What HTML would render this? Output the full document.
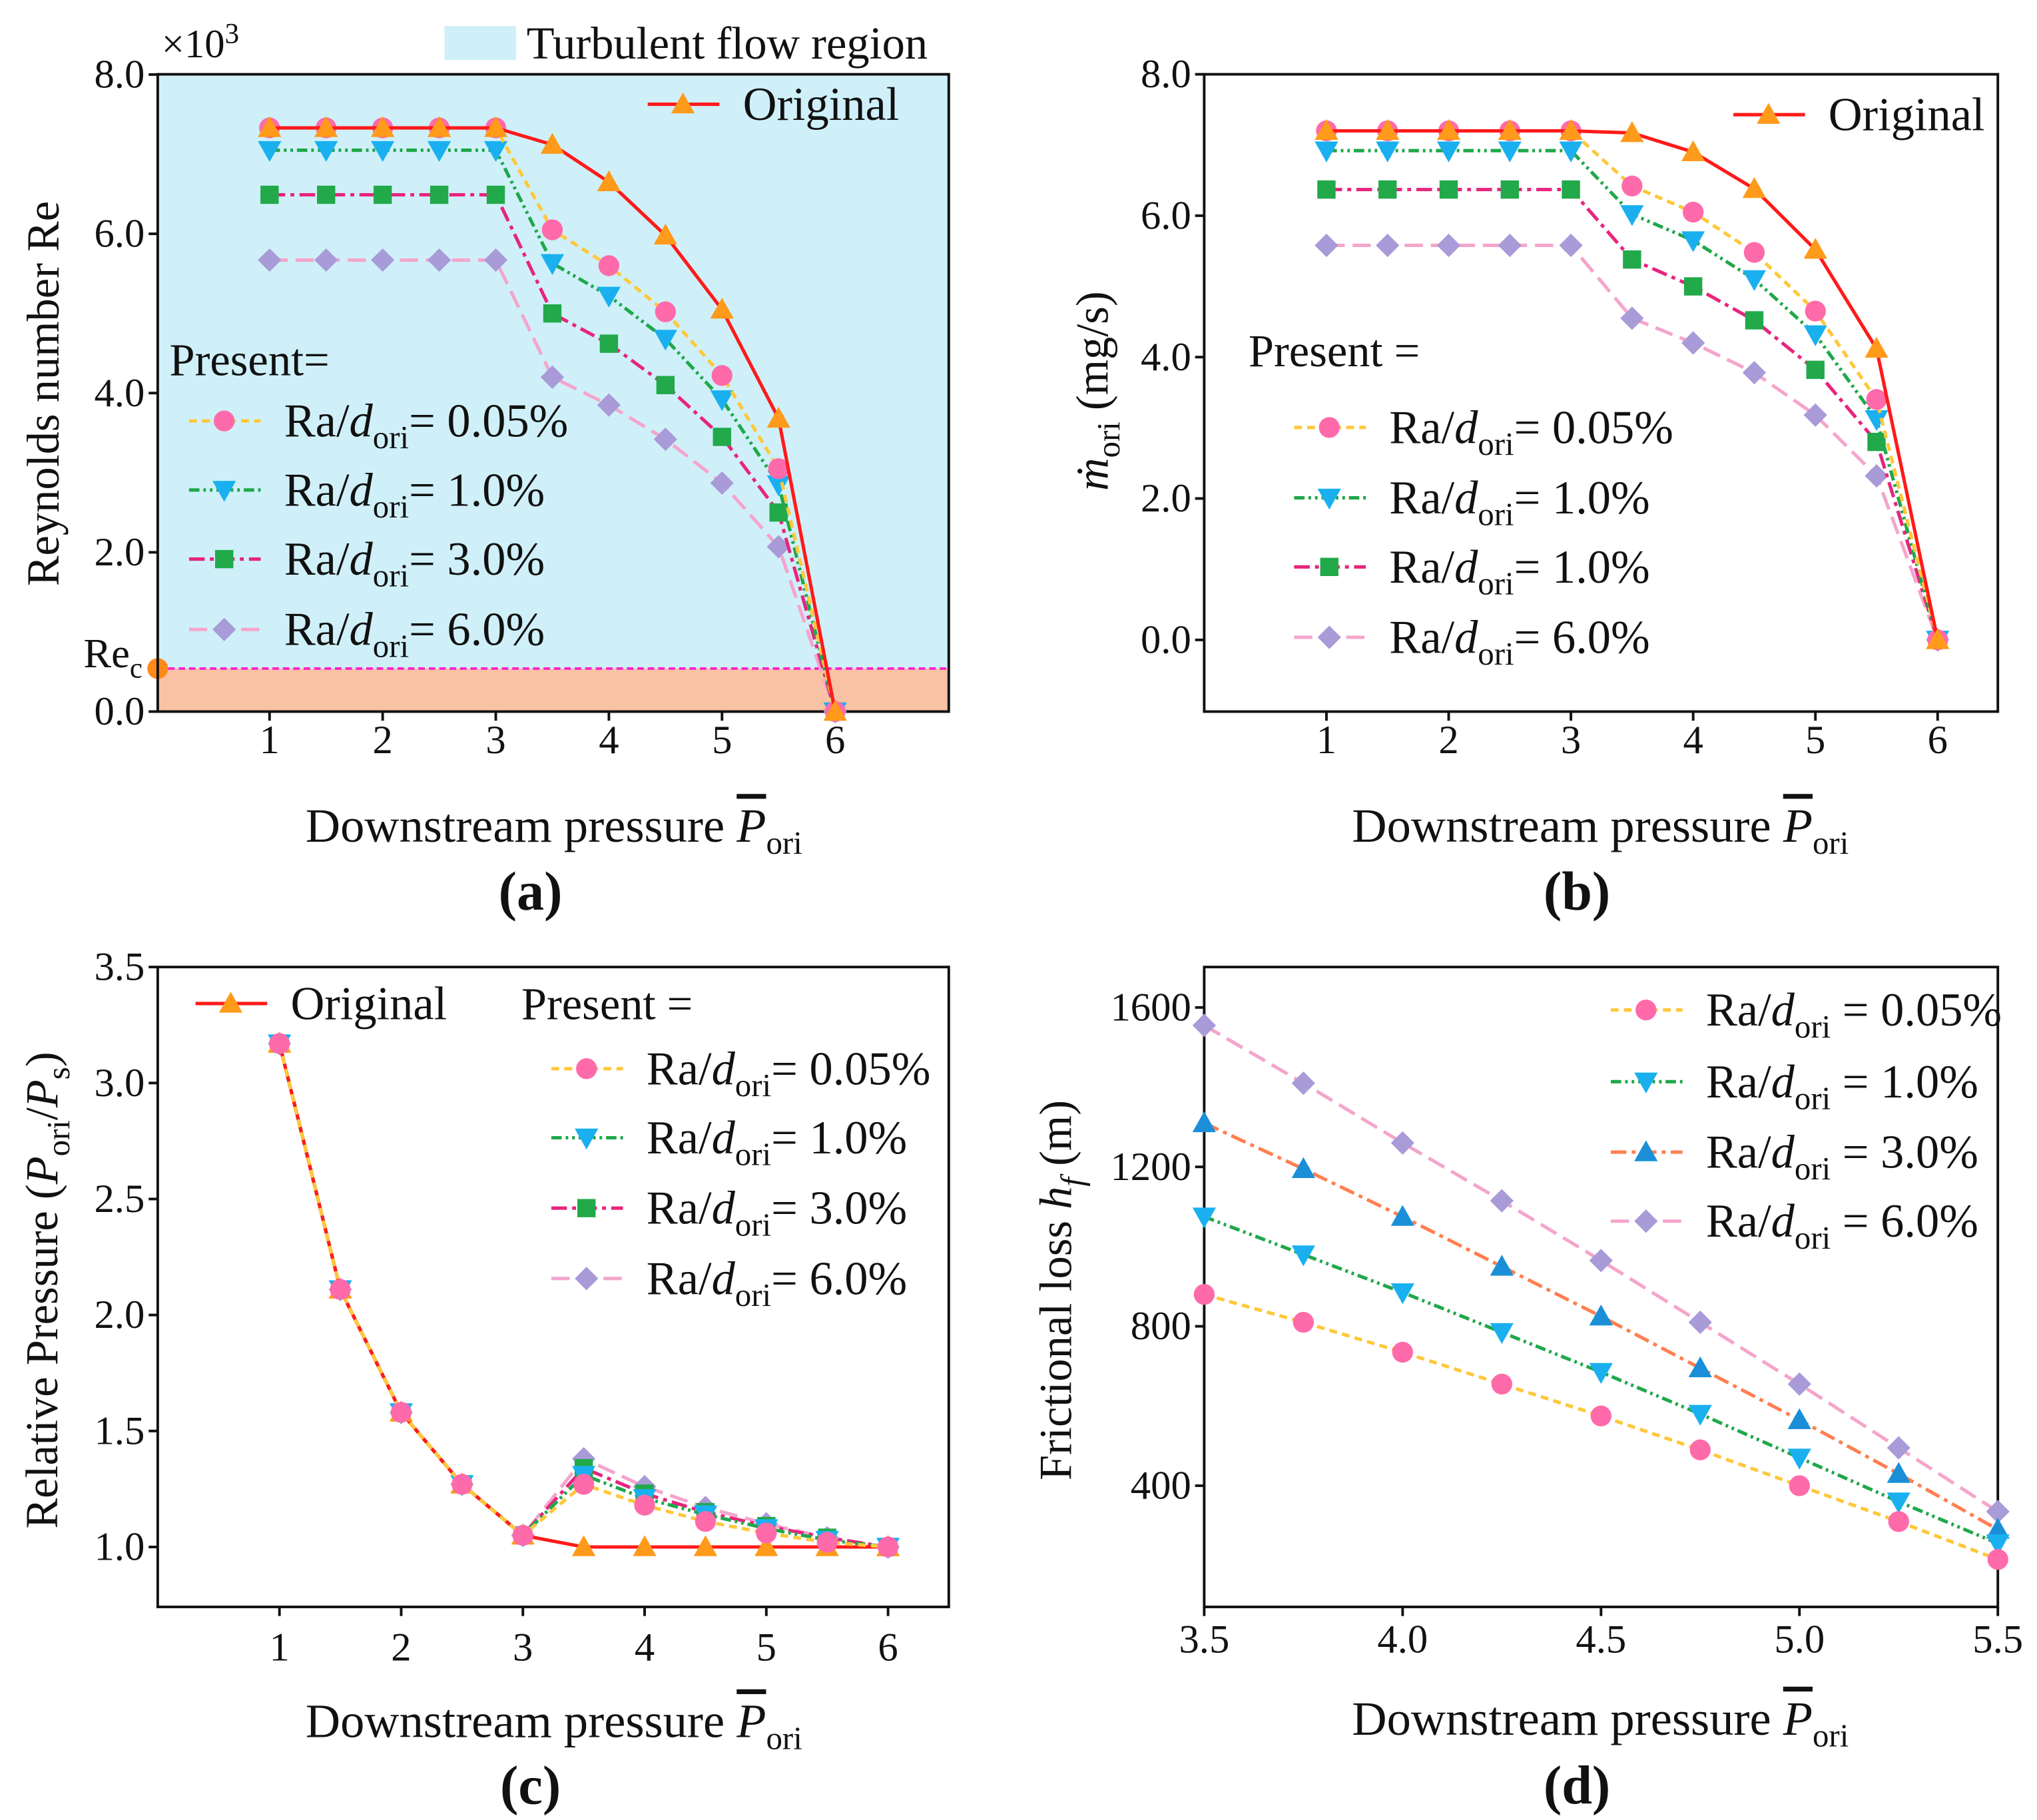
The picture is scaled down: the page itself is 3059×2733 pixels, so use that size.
<!DOCTYPE html>
<html><head><meta charset="utf-8"><style>
html,body{margin:0;padding:0;background:#fff}
svg{display:block}
text{font-family:"Liberation Serif",serif;fill:#111}
</style></head><body>
<svg id="s" xmlns="http://www.w3.org/2000/svg" width="3059" height="2733" viewBox="0 0 1563 1396.5">
<rect x="0" y="0" width="1563" height="1396.5" fill="#fff"/>
</svg>
<script>
const X1=[1,1.5,2,2.5,3,3.5,4,4.5,5,5.5,6];
const aOrig=[7.33,7.33,7.33,7.33,7.33,7.12,6.65,5.98,5.05,3.68,0];
const a005=[7.33,7.33,7.33,7.33,7.33,6.05,5.6,5.02,4.22,3.05,0];
const a10=[7.05,7.05,7.05,7.05,7.05,5.63,5.22,4.68,3.92,2.85,0];
const a30=[6.49,6.49,6.49,6.49,6.49,5.0,4.62,4.1,3.45,2.5,0];
const a60=[5.67,5.67,5.67,5.67,5.67,4.2,3.85,3.42,2.87,2.07,0];
const aRec=0.54;
const bOrig=[7.2,7.2,7.2,7.2,7.2,7.17,6.9,6.38,5.52,4.12,0];
const b005=[7.2,7.2,7.2,7.2,7.2,6.42,6.05,5.48,4.65,3.4,0];
const b10=[6.92,6.92,6.92,6.92,6.92,6.02,5.65,5.1,4.32,3.12,0];
const b30=[6.37,6.37,6.37,6.37,6.37,5.38,5.0,4.52,3.82,2.8,0];
const b60=[5.58,5.58,5.58,5.58,5.58,4.55,4.2,3.78,3.18,2.32,0];
const cOrig=[3.17,2.11,1.58,1.27,1.05,1.0,1.0,1.0,1.0,1.0,1.0];
const c005=[3.17,2.11,1.58,1.27,1.05,1.27,1.18,1.11,1.06,1.02,1.0];
const c10=[3.17,2.11,1.58,1.27,1.05,1.31,1.21,1.14,1.08,1.03,1.0];
const c30=[3.17,2.11,1.58,1.27,1.05,1.34,1.23,1.15,1.09,1.04,1.0];
const c60=[3.17,2.11,1.58,1.27,1.05,1.38,1.26,1.17,1.1,1.04,1.0];
const Xd=[3.5,3.75,4,4.25,4.5,4.75,5,5.25,5.5];
const d005=[880,810,735,655,575,490,400,310,215];
const d10=[1075,980,885,785,685,580,470,360,255];
const d30=[1310,1195,1075,950,825,695,565,430,290];
const d60=[1555,1410,1260,1115,965,810,655,495,335];

const S=document.getElementById('s');const NS='http://www.w3.org/2000/svg';
function el(t,a,p){const e=document.createElementNS(NS,t);for(const k in a)e.setAttribute(k,a[k]);(p||S).appendChild(e);return e;}
function txt(x,y,s,o){o=o||{};const e=el('text',{x:x,y:y,'font-size':o.fs||29,'text-anchor':o.anchor||'start'});if(o.bold)e.setAttribute('font-weight','bold');if(o.rot)e.setAttribute('transform','rotate(-90 '+x+' '+y+')');e.innerHTML=s;return e;}
const ST={
 orig:{c:'#ff1a1a',dash:'',m:'tri',mc:'#ff9a1a'},
 p005:{c:'#ffc83a',dash:'6 4',m:'circ',mc:'#ff6aaa'},
 p10:{c:'#1fa84a',dash:'8 3 2 3 2 3',m:'dtri',mc:'#1ab0f0'},
 p30:{c:'#e8247e',dash:'12 4 3 4',m:'sq',mc:'#21a94a'},
 p60:{c:'#f5a5cc',dash:'14 6',m:'dia',mc:'#a99ad8'},
 d30:{c:'#ff7f50',dash:'12 4 3 4',m:'tri',mc:'#1a8fd8'}
};
function marker(g,t,x,y,c){const r=8;
 if(t=='circ')return el('circle',{cx:x,cy:y,r:r,fill:c},g);
 if(t=='sq')return el('rect',{x:x-7,y:y-7,width:14,height:14,fill:c},g);
 if(t=='tri')return el('polygon',{points:`${x},${y-9} ${x+9},${y+7} ${x-9},${y+7}`,fill:c},g);
 if(t=='dtri')return el('polygon',{points:`${x},${y+9} ${x+9},${y-7} ${x-9},${y-7}`,fill:c},g);
 if(t=='dia')return el('polygon',{points:`${x},${y-9} ${x+9},${y} ${x},${y+9} ${x-9},${y}`,fill:c},g);}
function series(name,xs,ys,fx,fy,st){const g=el('g',{});
 
 
 const pts=xs.map((x,i)=>fx(x)+','+fy(ys[i])).join(' ');
 el('polyline',{points:pts,fill:'none',stroke:st.c,'stroke-width':2.6,'stroke-dasharray':st.dash},g);
 xs.forEach((x,i)=>marker(g,st.m,fx(x),fy(ys[i]),st.mc));}
function legend(name,x1,y,st,label){const g=el('g',{});
 
 
 el('line',{x1:x1,y1:y,x2:x1+55,y2:y,stroke:st.c,'stroke-width':2.6,'stroke-dasharray':st.dash},g);
 marker(g,st.m,x1+27,y,st.mc);
 const t=el('text',{x:x1+73,y:y+12,'font-size':36},g);t.innerHTML=label;}
function axes(L,T,R,B,xt,fx,xl,yt,fy,yl,xlY){
 el('rect',{x:L,y:T,width:R-L,height:B-T,fill:'none',stroke:'#111','stroke-width':2});
 xt.forEach((v,i)=>{const x=fx(v);el('line',{x1:x,y1:B,x2:x,y2:B+7,stroke:'#111','stroke-width':2});txt(x,xlY,xl[i],{fs:31,anchor:'middle'});});
 yt.forEach((v,i)=>{const y=fy(v);el('line',{x1:L,y1:y,x2:L-7,y2:y,stroke:'#111','stroke-width':2});txt(L-10,y+10,yl[i],{fs:31,anchor:'end'});});}
const lab=s=>`Ra/<tspan font-style="italic">d</tspan><tspan font-size="25" dy="9">ori</tspan><tspan dy="-9">${s}</tspan>`;
const xtitle=`Downstream pressure <tspan font-style="italic" text-decoration="overline">P</tspan><tspan font-size="25" dy="9">ori</tspan>`;
const XT=37, YT=35, PL=42;

// Panel a
{const fx=x=>120+86.8*x, fy=y=>546-61.1*y;
 el('rect',{x:121,y:57,width:607,height:fy(aRec)-57,fill:'#cff0f9'});
 el('rect',{x:121,y:fy(aRec),width:607,height:546-fy(aRec),fill:'#f9c2a4'});
 el('line',{x1:121,y1:fy(aRec),x2:728,y2:fy(aRec),stroke:'#ff22cc','stroke-width':2,'stroke-dasharray':'5 3'});
 el('circle',{cx:121,cy:fy(aRec),r:8,fill:'#ff8a1a'});
 txt(64,fy(aRec)-1,'Re<tspan font-size="22" dy="8">c</tspan>',{fs:32});
 axes(121,57,728,546,[1,2,3,4,5,6],fx,['1','2','3','4','5','6'],[0,2,4,6,8],fy,['0.0','2.0','4.0','6.0','8.0'],578);
 series('a-6pct',X1,a60,fx,fy,ST.p60);series('a-3pct',X1,a30,fx,fy,ST.p30);series('a-1pct',X1,a10,fx,fy,ST.p10);series('a-005pct',X1,a005,fx,fy,ST.p005);series('a-original',X1,aOrig,fx,fy,ST.orig);
 txt(124,44,'×10<tspan font-size="22" dy="-11">3</tspan>',{fs:31});
 el('rect',{x:341,y:20,width:55,height:26,fill:'#cff0f9'});txt(404,45,'Turbulent flow region',{fs:35});
 legend('a-legend-original',497,80,ST.orig,'Original');
 txt(130,288,'Present=',{fs:35});
 legend('a-legend-005',145,323,ST.p005,lab('= 0.05%'));legend('a-legend-1',145,376,ST.p10,lab('= 1.0%'));
 legend('a-legend-3',145,429,ST.p30,lab('= 3.0%'));legend('a-legend-6',145,483,ST.p60,lab('= 6.0%'));
 txt(45,302,'Reynolds number Re',{fs:YT,anchor:'middle',rot:1});
 txt(425,646,xtitle,{fs:XT,anchor:'middle'});txt(407,698,'(a)',{fs:PL,bold:1,anchor:'middle'});}
// Panel b
{const fx=x=>924+93.8*x, fy=y=>491-54.25*y;
 axes(924,57,1533,546,[1,2,3,4,5,6],fx,['1','2','3','4','5','6'],[0,2,4,6,8],fy,['0.0','2.0','4.0','6.0','8.0'],578);
 series('b-6pct',X1,b60,fx,fy,ST.p60);series('b-3pct',X1,b30,fx,fy,ST.p30);series('b-1pct',X1,b10,fx,fy,ST.p10);series('b-005pct',X1,b005,fx,fy,ST.p005);series('b-original',X1,bOrig,fx,fy,ST.orig);
 legend('b-legend-original',1330,88,ST.orig,'Original');
 txt(958,281,'Present =',{fs:35});
 legend('b-legend-005',993,328,ST.p005,lab('= 0.05%'));legend('b-legend-1',993,382,ST.p10,lab('= 1.0%'));
 legend('b-legend-3',993,435,ST.p30,lab('= 1.0%'));legend('b-legend-6',993,489,ST.p60,lab('= 6.0%'));
 txt(850,300,'<tspan font-style="italic">ṁ</tspan><tspan font-size="25" dy="9">ori</tspan><tspan dy="-9">  (mg/s)</tspan>',{fs:YT,anchor:'middle',rot:1});
 txt(1228,646,xtitle,{fs:XT,anchor:'middle'});txt(1210,698,'(b)',{fs:PL,bold:1,anchor:'middle'});}
// Panel c
{const fx=x=>121+93.4*x, fy=y=>1187-178*(y-1);
 axes(121,742,728,1233,[1,2,3,4,5,6],fx,['1','2','3','4','5','6'],[1,1.5,2,2.5,3,3.5],fy,['1.0','1.5','2.0','2.5','3.0','3.5'],1274);
 series('c-6pct',X1,c60,fx,fy,ST.p60);series('c-3pct',X1,c30,fx,fy,ST.p30);series('c-1pct',X1,c10,fx,fy,ST.p10);series('c-original',X1,cOrig,fx,fy,ST.orig);series('c-005pct',X1,c005,fx,fy,ST.p005);
 legend('c-legend-original',150,770,ST.orig,'Original');
 txt(400,782,'Present =',{fs:35});
 legend('c-legend-005',423,820,ST.p005,lab('= 0.05%'));legend('c-legend-1',423,873,ST.p10,lab('= 1.0%'));
 legend('c-legend-3',423,927,ST.p30,lab('= 3.0%'));legend('c-legend-6',423,981,ST.p60,lab('= 6.0%'));
 txt(44,990,'Relative Pressure (<tspan font-style="italic">P</tspan><tspan font-size="25" dy="9">ori</tspan><tspan dy="-9">/</tspan><tspan font-style="italic">P</tspan><tspan font-size="25" dy="9">s</tspan><tspan dy="-9">)</tspan>',{fs:YT,anchor:'middle',rot:1});
 txt(425,1333,xtitle,{fs:XT,anchor:'middle'});txt(407,1384,'(c)',{fs:PL,bold:1,anchor:'middle'});}
// Panel d
{const fx=x=>924+304.5*(x-3.5), fy=y=>1140-0.3058*(y-400);
 axes(924,742,1533,1233,[3.5,4,4.5,5,5.5],fx,['3.5','4.0','4.5','5.0','5.5'],[400,800,1200,1600],fy,['400','800','1200','1600'],1268);
 series('d-6pct',Xd,d60,fx,fy,ST.p60);series('d-3pct',Xd,d30,fx,fy,ST.d30);series('d-1pct',Xd,d10,fx,fy,ST.p10);series('d-005pct',Xd,d005,fx,fy,ST.p005);
 legend('d-legend-005',1236,775,ST.p005,lab(' = 0.05%'));legend('d-legend-1',1236,830,ST.p10,lab(' = 1.0%'));
 legend('d-legend-3',1236,884,ST.d30,lab(' = 3.0%'));legend('d-legend-6',1236,937,ST.p60,lab(' = 6.0%'));
 txt(822,990,'Frictional loss <tspan font-style="italic">h</tspan><tspan font-size="25" dy="9" font-style="italic">f</tspan><tspan dy="-9"> (m)</tspan>',{fs:YT,anchor:'middle',rot:1});
 txt(1228,1331,xtitle,{fs:XT,anchor:'middle'});txt(1210,1384,'(d)',{fs:PL,bold:1,anchor:'middle'});}
</script>
</body></html>
